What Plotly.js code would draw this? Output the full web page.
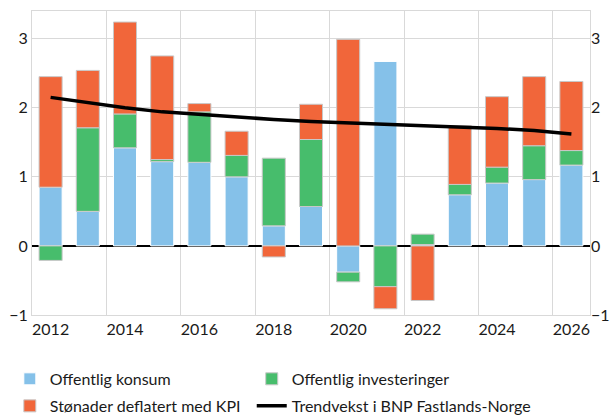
<!DOCTYPE html>
<html>
<head>
<meta charset="utf-8">
<script src="https://cdn.plot.ly/plotly-3.0.1.min.js"></script>
<style>html,body{margin:0;padding:0;background:#fff;}#chart{width:614px;height:416px;}</style>
</head>
<body>
<div id="chart"></div>
<script>
const years = [2012,2013,2014,2015,2016,2017,2018,2019,2020,2021,2022,2023,2024,2025,2026];
const konsum = [0.85,0.50,1.42,1.22,1.21,1.00,0.29,0.57,-0.38,2.67,0.02,0.74,0.91,0.96,1.17];
const investeringer = [-0.21,1.21,0.49,0.03,0.73,0.31,0.98,0.97,-0.14,-0.59,0.15,0.15,0.23,0.49,0.21];
const stonader = [1.60,0.83,1.33,1.50,0.12,0.35,-0.16,0.51,2.99,-0.32,-0.79,0.85,1.02,1.00,1.00];
const trend = [2.15,2.07,2.00,1.94,1.90,1.86,1.83,1.80,1.78,1.76,1.75,1.73,1.70,1.67,1.62];
const xTicks = [2012,2014,2016,2018,2020,2022,2024,2026];
const yTicks = [-1,0,1,2,3];

const font = {family: 'Lato, "Liberation Sans", sans-serif', size: 16, color: '#1a1a1a'};
const grid = '#d9d9d9';

const traces = [
  {type:'bar', name:'Offentlig konsum', x:years, y:konsum, width:0.62, legend:'legend',
   marker:{color:'#85c1e9', line:{color:'#ffffff', width:1}}},
  {type:'bar', name:'Offentlig investeringer', x:years, y:investeringer, width:0.62, legend:'legend2',
   marker:{color:'#47bd6c', line:{color:'#c8c8c8', width:1}}},
  {type:'bar', name:'Stønader deflatert med KPI', x:years, y:stonader, width:0.62, legend:'legend3',
   marker:{color:'#f1663a', line:{color:'#c8c8c8', width:1}}},
  {type:'scatter', mode:'lines', name:'Trendvekst i BNP Fastlands-Norge', x:years, y:trend,
   legend:'legend4', yaxis:'y2', line:{color:'#000000', width:3.5}}
];

function leg(x, y) {
  return {orientation:'h', xref:'container', yref:'container', x:x, y:y,
          xanchor:'left', yanchor:'top', font:font, bgcolor:'rgba(0,0,0,0)'};
}

const layout = {
  width:614, height:416,
  margin:{l:32, r:24, t:11, b:101},
  paper_bgcolor:'#ffffff', plot_bgcolor:'#ffffff',
  font: font,
  barmode:'relative',
  showlegend:true,
  legend: leg(0.016, 0.130),
  legend2: leg(0.410, 0.130),
  legend3: leg(0.016, 0.065),
  legend4: leg(0.410, 0.065),
  xaxis:{range:[2011.5,2026.5], tickmode:'array', tickvals:xTicks, ticktext:xTicks.map(String),
         showgrid:false, ticks:'', showline:true, mirror:true, linecolor:grid, linewidth:1,
         zeroline:false, tickfont:font, automargin:false,
         minor:{tick0:2011.5, dtick:2, showgrid:true, gridcolor:grid, gridwidth:1, ticks:''}},
  yaxis:{range:[-1,3.4], tickmode:'array', tickvals:yTicks, showgrid:true, gridcolor:grid,
         zeroline:true, zerolinecolor:'#000000', zerolinewidth:1.5, automargin:false,
         showline:true, mirror:true, linecolor:grid, ticks:'', tickfont:font},
  yaxis2:{range:[-1,3.4], tickmode:'array', tickvals:yTicks, overlaying:'y', side:'right',
          showgrid:false, zeroline:false, showline:false, ticks:'', tickfont:font, automargin:false}
};

Plotly.newPlot('chart', traces, layout, {displayModeBar:false, staticPlot:true});
</script>
</body>
</html>
